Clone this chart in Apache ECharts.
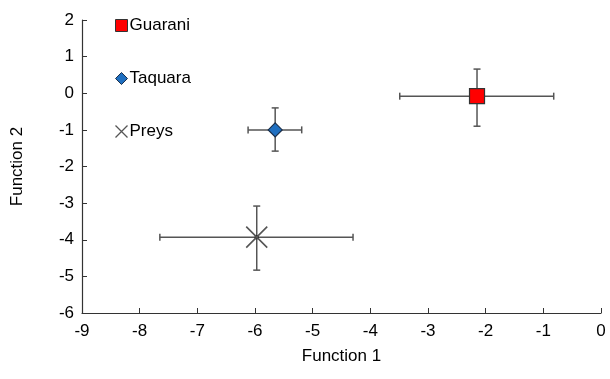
<!DOCTYPE html>
<html><head><meta charset="utf-8">
<script src="https://cdn.jsdelivr.net/npm/echarts@6/dist/echarts.min.js"></script>
<style>html,body{margin:0;padding:0;background:#fff}#c{width:610px;height:379px}</style>
</head><body><div id="c"></div>
<script>
const groups = ["Guarani", "Taquara", "Preys"];
const xMean = [-2.15, -5.65, -5.97];
const yMean = [-0.08, -1.0, -3.93];
const xLow = [-3.49, -6.12, -7.65];
const xHigh = [-0.82, -5.19, -4.3];
const yLow = [-0.9, -1.58, -4.83];
const yHigh = [0.66, -0.4, -3.08];
const xTicks = [-9, -8, -7, -6, -5, -4, -3, -2, -1, 0];
const yTicks = [-6, -5, -4, -3, -2, -1, 0, 1, 2];

const xPath = 'path://M0,0 L10,10 M10,0 L0,10';
const styles = [
  {symbol: 'rect', size: 15, item: {color: '#ff0000', borderColor: '#333', borderWidth: 1.2, opacity: 1}},
  {symbol: 'diamond', size: 14, item: {color: '#1f6fc0', borderColor: '#1b2f4a', borderWidth: 1.2, opacity: 1}},
  {symbol: xPath, size: 21, item: {color: 'none', borderColor: '#555', borderWidth: 1.6, opacity: 1}}
];

const errData = groups.map((g, i) => [xMean[i], yMean[i], xLow[i], xHigh[i], yLow[i], yHigh[i], i]);

const series = [{
  type: 'custom',
  name: 'err',
  z: 1,
  silent: true,
  data: errData,
  renderItem: function (params, api) {
    const c = api.coord([api.value(0), api.value(1)]);
    const l = api.coord([api.value(2), api.value(1)]);
    const r = api.coord([api.value(3), api.value(1)]);
    const b = api.coord([api.value(0), api.value(4)]);
    const t = api.coord([api.value(0), api.value(5)]);
    const cap = 3.5;
    const st = {stroke: '#555', lineWidth: 1.5, fill: null};
    return {type: 'group', children: [
      {type: 'line', shape: {x1: l[0], y1: c[1], x2: r[0], y2: c[1]}, style: st},
      {type: 'line', shape: {x1: l[0], y1: c[1] - cap, x2: l[0], y2: c[1] + cap}, style: st},
      {type: 'line', shape: {x1: r[0], y1: c[1] - cap, x2: r[0], y2: c[1] + cap}, style: st},
      {type: 'line', shape: {x1: c[0], y1: t[1], x2: c[0], y2: b[1]}, style: st},
      {type: 'line', shape: {x1: c[0] - cap, y1: t[1], x2: c[0] + cap, y2: t[1]}, style: st},
      {type: 'line', shape: {x1: c[0] - cap, y1: b[1], x2: c[0] + cap, y2: b[1]}, style: st},
      {type: 'rect', shape: {x: c[0] - 2, y: c[1] - 2, width: 4, height: 4}, style: {fill: '#111'}}
    ]};
  }
}];
groups.forEach((g, i) => {
  series.push({
    type: 'scatter', name: g, z: 3,
    symbol: styles[i].symbol, symbolSize: styles[i].size,
    itemStyle: styles[i].item,
    data: [[xMean[i], yMean[i]]]
  });
});

const chart = echarts.init(document.getElementById('c'));
chart.setOption({
  animation: false,
  textStyle: {fontFamily: 'Liberation Sans, Arial, sans-serif'},
  grid: {left: 82, right: 9, top: 20, bottom: 66},
  legend: {
    orient: 'vertical', left: 108, top: 12, itemGap: 36,
    itemWidth: 12, itemHeight: 12,
    textStyle: {fontSize: 17, color: '#000', padding: [0, 0, 0, -3]},
    data: [
      {name: 'Guarani', icon: 'rect', itemStyle: {color: '#ff0000', borderColor: '#333', borderWidth: 1, opacity: 1}},
      {name: 'Taquara', icon: 'diamond', itemStyle: {color: '#1f6fc0', borderColor: '#1b2f4a', borderWidth: 1, opacity: 1}},
      {name: 'Preys', icon: xPath, itemStyle: {color: 'none', borderColor: '#555', borderWidth: 1.3, opacity: 1}}
    ]
  },
  xAxis: {
    type: 'value', min: -9, max: 0, interval: 1,
    name: 'Function 1', nameLocation: 'middle', nameGap: 35,
    nameTextStyle: {fontSize: 17, color: '#000'},
    axisLine: {onZero: false, lineStyle: {color: '#333', width: 1.2}},
    axisTick: {show: true, inside: true, length: 5, lineStyle: {color: '#333'}},
    axisLabel: {fontSize: 17, color: '#000', margin: 10, formatter: v => xTicks.includes(v) ? String(v) : ''},
    splitLine: {show: false}
  },
  yAxis: {
    type: 'value', min: -6, max: 2, interval: 1,
    name: 'Function 2', nameLocation: 'middle', nameGap: 56,
    nameTextStyle: {fontSize: 17, color: '#000'},
    axisLine: {onZero: false, lineStyle: {color: '#333', width: 1.2}},
    axisTick: {show: true, inside: true, length: 5, lineStyle: {color: '#333'}},
    axisLabel: {fontSize: 17, color: '#000', margin: 8, formatter: v => yTicks.includes(v) ? String(v) : ''},
    splitLine: {show: false}
  },
  series: series
});
</script></body></html>
